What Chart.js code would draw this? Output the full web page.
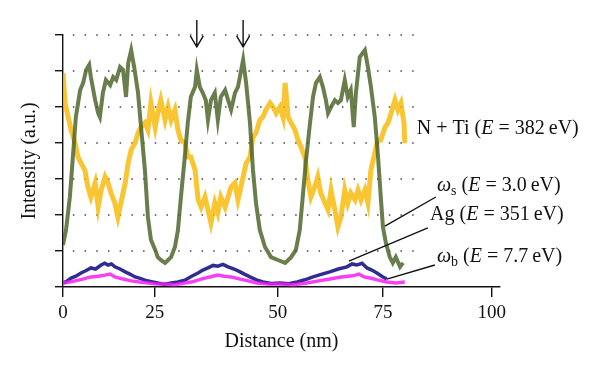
<!DOCTYPE html>
<html>
<head>
<meta charset="UTF-8">
<title>Intensity profile</title>
<script src="https://cdn.jsdelivr.net/npm/chart.js"></script>
<style>body { margin: 0; background: #fff; }</style>
</head>
<body>
<canvas id="myChart" width="600" height="376"></canvas>
<script>
// x tick marks (placed as in the figure) and their labels
const xTickPos = [0, 21.4, 50.1, 74.6, 100];
const xTickLabels = ['0', '25', '50', '75', '100'];
const yTickPos = [0, 1, 2, 3, 4, 5, 6, 7];

// omega_s (E = 3.0 eV) - olive trace
const greenX = [0, 0.7, 1.6, 2.3, 3.0, 4.0, 4.7, 5.4, 6.1, 6.5, 7.5, 8.2, 8.6, 9.3, 10.0, 11.0, 11.7, 12.4, 13.3, 14.0, 14.7, 15.2, 15.9, 16.6, 17.5, 18.2, 19.1, 19.8, 20.5, 21.5, 22.1, 22.8, 23.8, 24.5, 25.2, 26.1, 26.8, 27.5, 28.4, 29.1, 29.8, 30.8, 31.2, 31.9, 32.6, 33.3, 33.8, 34.5, 35.4, 36.1, 36.8, 37.8, 38.5, 39.2, 40.1, 40.8, 42.0, 42.7, 43.6, 44.3, 45.0, 45.9, 47.1, 48.5, 50.1, 51.8, 53.2, 54.3, 55.2, 55.9, 56.6, 57.6, 58.3, 59.0, 59.9, 60.6, 61.3, 61.8, 62.5, 63.4, 64.1, 64.8, 65.7, 66.4, 67.1, 67.8, 68.3, 69.2, 69.9, 70.4, 71.1, 71.8, 72.7, 73.4, 74.1, 74.6, 75.3, 76.2, 76.9, 77.6, 78.6, 79.3];
const greenY = [1.17, 1.58, 2.5, 3.61, 4.72, 5.47, 5.67, 6.03, 6.17, 5.83, 5.19, 4.83, 4.72, 5.39, 5.75, 5.61, 5.83, 5.75, 6.11, 6.03, 5.28, 6.22, 6.58, 6.11, 5.39, 4.44, 3.25, 1.94, 1.31, 1.03, 0.83, 0.75, 0.67, 0.75, 0.83, 1.11, 1.58, 2.5, 3.61, 4.56, 5.28, 5.56, 6.03, 5.56, 5.39, 5.19, 4.64, 5.19, 5.39, 4.64, 5.28, 5.47, 5.19, 4.92, 5.39, 5.56, 6.31, 5.67, 4.56, 3.25, 2.33, 1.58, 1.11, 0.83, 0.75, 0.67, 0.83, 1.03, 1.58, 2.5, 3.44, 4.56, 5.28, 5.67, 5.83, 5.56, 5.19, 4.83, 5.0, 5.19, 5.11, 5.19, 5.75, 5.28, 5.47, 4.44, 5.39, 6.39, 6.5, 6.58, 6.11, 5.56, 4.72, 3.72, 2.5, 1.67, 1.22, 0.83, 0.67, 0.83, 0.56, 0.67];

// N + Ti (E = 382 eV) - yellow trace
const yellowX = [0, 0.5, 1.2, 1.9, 2.8, 3.5, 4.2, 5.1, 5.8, 6.5, 7.5, 8.2, 8.9, 9.8, 10.5, 11.2, 12.1, 12.8, 13.5, 14.5, 15.2, 15.9, 16.8, 17.5, 18.2, 19.1, 19.8, 20.5, 21.5, 22.1, 22.8, 23.8, 24.5, 25.2, 26.1, 26.8, 27.5, 28.4, 29.1, 29.8, 30.8, 31.5, 32.2, 33.1, 33.8, 34.5, 35.4, 36.1, 36.8, 37.8, 38.5, 39.2, 40.1, 40.8, 42.0, 42.7, 43.6, 44.3, 45.0, 45.9, 46.6, 47.3, 48.3, 49.0, 49.7, 50.6, 51.3, 51.8, 52.5, 53.2, 54.1, 54.8, 55.5, 56.4, 57.1, 57.8, 58.7, 59.4, 60.1, 61.1, 61.8, 62.5, 63.4, 64.1, 64.8, 65.7, 66.4, 67.1, 68.1, 68.8, 69.5, 70.4, 71.1, 71.8, 72.7, 73.4, 74.1, 75.1, 75.8, 76.5, 77.4, 78.1, 78.8, 79.5, 79.7];
const yellowY = [5.94, 5.11, 4.72, 4.36, 4.0, 3.61, 3.44, 3.25, 2.78, 2.5, 2.89, 2.22, 2.69, 3.06, 2.89, 2.61, 2.33, 1.94, 2.33, 2.89, 3.44, 3.81, 4.0, 4.28, 4.44, 4.56, 4.36, 5.11, 4.44, 4.83, 5.19, 4.64, 5.0, 4.64, 4.92, 4.36, 4.08, 4.0, 3.61, 3.61, 3.25, 2.42, 2.22, 2.5, 2.14, 1.78, 2.33, 2.06, 2.5, 2.22, 2.5, 2.78, 2.89, 2.42, 3.06, 3.44, 3.61, 4.17, 4.28, 4.64, 4.72, 4.92, 5.11, 5.0, 4.83, 5.0, 4.72, 5.67, 4.72, 4.56, 4.36, 4.08, 3.89, 3.61, 2.97, 2.5, 2.78, 3.06, 2.61, 2.33, 2.14, 2.69, 2.14, 1.67, 1.94, 2.69, 2.33, 2.61, 2.42, 2.69, 2.42, 2.69, 2.33, 3.25, 3.72, 4.08, 4.08, 4.44, 4.56, 4.83, 5.19, 4.92, 5.11, 4.56, 4.0];

// Ag (E = 351 eV) - navy trace
const blueX = [0, 0.9, 1.9, 3.0, 4.2, 5.3, 6.5, 7.6, 8.9, 9.7, 10.5, 11.3, 12.1, 13.3, 14.5, 15.6, 16.8, 18.0, 19.1, 20.6, 22.1, 23.7, 25.2, 26.8, 28.4, 30.0, 31.5, 32.6, 33.8, 35.0, 36.1, 37.3, 38.5, 39.9, 41.3, 42.4, 43.6, 45.1, 46.6, 48.6, 50.6, 52.6, 54.6, 56.4, 58.3, 60.2, 62.2, 64.2, 66.2, 67.4, 68.5, 69.7, 70.9, 72.0, 73.2, 74.6, 75.5];
const blueY = [0.11, 0.16, 0.25, 0.3, 0.39, 0.45, 0.53, 0.5, 0.61, 0.66, 0.61, 0.64, 0.56, 0.5, 0.42, 0.36, 0.28, 0.24, 0.19, 0.15, 0.11, 0.08, 0.11, 0.14, 0.19, 0.3, 0.39, 0.47, 0.53, 0.6, 0.58, 0.63, 0.56, 0.5, 0.42, 0.35, 0.28, 0.2, 0.14, 0.1, 0.11, 0.09, 0.14, 0.2, 0.28, 0.35, 0.42, 0.5, 0.56, 0.64, 0.61, 0.66, 0.53, 0.47, 0.39, 0.28, 0.22];

// omega_b (E = 7.7 eV) - magenta trace
const magentaX = [0, 1.4, 2.8, 4.6, 6.5, 8.2, 9.8, 11.0, 12.1, 14.0, 15.9, 17.8, 19.8, 21.8, 23.8, 26.1, 28.4, 30.3, 32.2, 34.2, 36.1, 37.6, 39.2, 41.3, 43.2, 45.2, 47.9, 50.6, 53.7, 56.9, 59.6, 62.2, 64.9, 67.6, 69.0, 70.2, 71.6, 73.5, 75.5, 77.6, 79.7];
const magentaY = [0.11, 0.14, 0.17, 0.22, 0.28, 0.3, 0.33, 0.36, 0.28, 0.22, 0.17, 0.14, 0.11, 0.08, 0.08, 0.06, 0.11, 0.15, 0.22, 0.28, 0.33, 0.3, 0.28, 0.22, 0.17, 0.11, 0.08, 0.08, 0.06, 0.11, 0.17, 0.22, 0.28, 0.31, 0.36, 0.28, 0.25, 0.19, 0.14, 0.11, 0.14];

const pts = (xs, ys) => xs.map((x, i) => ({ x: x, y: ys[i] }));
const serif = '"Liberation Serif", "DejaVu Serif", serif';

// writes a label made of normal / italic / subscript pieces
function richText(ctx, x, y, parts) {
    parts.forEach(([t, s]) => {
        const size = s === 'sub' ? 14 : 20;
        ctx.font = (s === 'it' ? 'italic ' : '') + size + 'px ' + serif;
        ctx.fillText(t, x, s === 'sub' ? y + 5 : y);
        x += ctx.measureText(t).width;
    });
}

const extras = {
    id: 'extras',
    beforeDatasetsDraw(chart) {
        const { ctx, scales: { x, y } } = chart;
        ctx.save();
        ctx.strokeStyle = '#444';
        ctx.lineWidth = 1.5;
        ctx.setLineDash([1.5, 10.2]);
        for (let v = 1; v <= 7; v++) {
            const py = y.getPixelForValue(v);
            ctx.beginPath();
            ctx.moveTo(x.getPixelForValue(2.3), py);
            ctx.lineTo(x.getPixelForValue(82), py);
            ctx.stroke();
        }
        ctx.restore();
    },
    afterDatasetsDraw(chart) {
        const { ctx, scales: { x, y } } = chart;
        ctx.save();
        ctx.strokeStyle = '#111';
        ctx.fillStyle = '#111';
        ctx.lineWidth = 1.4;

        // arrows over the two peaks
        [31.2, 42.0].forEach(v => {
            const px = x.getPixelForValue(v);
            const top = y.getPixelForValue(7.42), tip = y.getPixelForValue(6.67);
            ctx.beginPath();
            ctx.moveTo(px, top); ctx.lineTo(px, tip);
            ctx.moveTo(px - 6.5, tip - 11); ctx.lineTo(px, tip); ctx.lineTo(px + 6.5, tip - 11);
            ctx.stroke();
        });

        // leader lines
        [[86.95, 2.5, 75.06, 1.69], [85.08, 1.64, 66.67, 0.72], [86.71, 0.61, 75.52, 0.22]].forEach(l => {
            ctx.beginPath();
            ctx.moveTo(x.getPixelForValue(l[0]), y.getPixelForValue(l[1]));
            ctx.lineTo(x.getPixelForValue(l[2]), y.getPixelForValue(l[3]));
            ctx.stroke();
        });

        ctx.textBaseline = 'middle';
        richText(ctx, x.getPixelForValue(82.5), y.getPixelForValue(4.39),
            [['N + Ti (', 'n'], ['E', 'it'], [' = 382\u2009eV)', 'n']]);
        richText(ctx, x.getPixelForValue(87.2), y.getPixelForValue(2.81),
            [['\u03c9', 'it'], ['s', 'sub'], [' (', 'n'], ['E', 'it'], [' = 3.0\u2009eV)', 'n']]);
        richText(ctx, x.getPixelForValue(85.6), y.getPixelForValue(2.0),
            [['Ag (', 'n'], ['E', 'it'], [' = 351\u2009eV)', 'n']]);
        richText(ctx, x.getPixelForValue(87.2), y.getPixelForValue(0.83),
            [['\u03c9', 'it'], ['b', 'sub'], [' (', 'n'], ['E', 'it'], [' = 7.7\u2009eV)', 'n']]);
        ctx.restore();
    }
};

const ctx = document.getElementById('myChart').getContext('2d');
new Chart(ctx, {
    type: 'line',
    data: {
        datasets: [
            { label: 'omega_b', data: pts(magentaX, magentaY), borderColor: 'rgba(245,30,245,0.85)', borderWidth: 3.5, order: 1 },
            { label: 'Ag', data: pts(blueX, blueY), borderColor: 'rgba(22,22,135,0.9)', borderWidth: 3.5, order: 2 },
            { label: 'omega_s', data: pts(greenX, greenY), borderColor: 'rgba(72,98,36,0.82)', borderWidth: 4, order: 3 },
            { label: 'N + Ti', data: pts(yellowX, yellowY), borderColor: 'rgba(247,182,0,0.8)', borderWidth: 5, order: 4 }
        ]
    },
    options: {
        responsive: false,
        animation: false,
        layout: { padding: { top: 35, right: 100, bottom: 0, left: 10 } },
        elements: { point: { radius: 0 }, line: { tension: 0 } },
        scales: {
            x: {
                type: 'linear',
                min: 0,
                max: 101.9,
                afterBuildTicks: s => { s.ticks = xTickPos.map(v => ({ value: v })); },
                afterFit: s => { s.height = 89; },
                ticks: {
                    callback: (v, i) => xTickLabels[i],
                    color: '#111',
                    padding: 5,
                    maxRotation: 0,
                    font: { family: serif, size: 19 }
                },
                grid: { drawOnChartArea: false, drawTicks: true, tickLength: 10, color: '#111', lineWidth: 1.4 },
                border: { color: '#111', width: 1.4 },
                title: {
                    display: true,
                    text: 'Distance (nm)',
                    color: '#111',
                    padding: { top: 0, bottom: 22 },
                    font: { family: serif, size: 20 }
                }
            },
            y: {
                min: 0,
                max: 7,
                afterBuildTicks: s => { s.ticks = yTickPos.map(v => ({ value: v })); },
                afterFit: s => { s.width = 53; },
                ticks: { display: false },
                grid: { drawOnChartArea: false, drawTicks: true, tickLength: 8, color: '#111', lineWidth: 1.4 },
                border: { color: '#111', width: 1.4 },
                title: {
                    display: true,
                    text: 'Intensity (a.u.)',
                    color: '#111',
                    padding: { top: 8, bottom: 0 },
                    font: { family: serif, size: 20 }
                }
            }
        },
        plugins: {
            legend: { display: false },
            tooltip: { enabled: false }
        }
    },
    plugins: [extras]
});
</script>
</body>
</html>
